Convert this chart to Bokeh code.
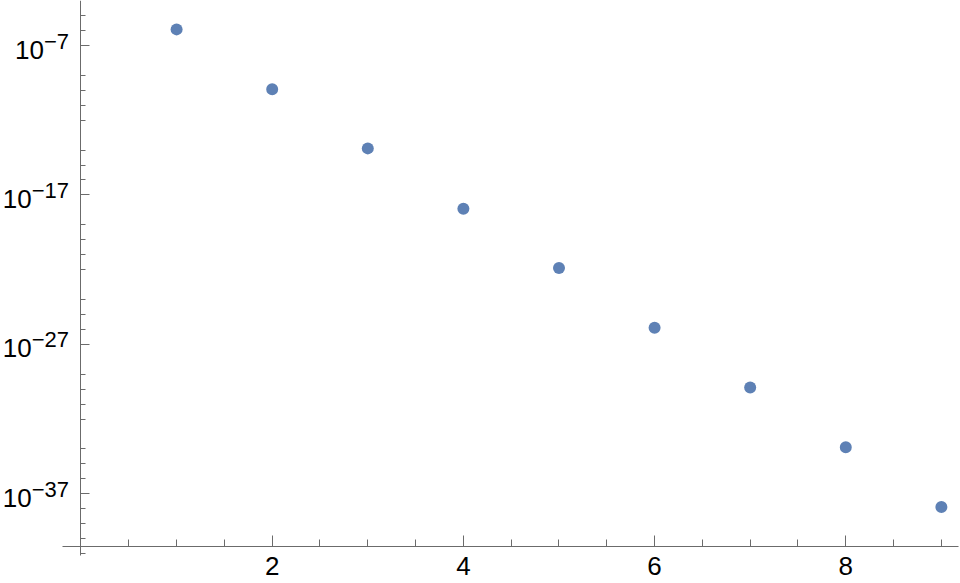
from bokeh.plotting import figure
from bokeh.models import (ColumnDataSource, FixedTicker, CustomJSTickFormatter,
                          LabelSet, Range1d)
from bokeh.core.properties import value
from bokeh.embed import file_html
from bokeh.resources import INLINE

# ---- data ----
n_values = [1, 2, 3, 4, 5, 6, 7, 8, 9]
y_values = [1.2e-6, 1.2e-10, 1.3e-14, 1.2e-18, 1.3e-22, 1.3e-26, 1.3e-30, 1.3e-34, 1.3e-38]

x_major_ticks = [2, 4, 6, 8]
x_minor_ticks = [0.5, 1, 1.5, 2.5, 3, 3.5, 4.5, 5, 5.5, 6.5, 7, 7.5, 8.5, 9]
y_major_exp = [-7, -17, -27, -37]
y_minor_exp = [-5, -6, -9, -10, -11, -12, -14, -15, -16, -19, -20, -21, -22,
               -24, -25, -26, -29, -30, -31, -32, -34, -35, -36, -38, -39, -40, -41]

# ---- styling / layout ----
AXIS_COLOR = "#6b6b6b"
POINT_COLOR = "#5E81B5"
FONT = "Liberation Sans"
BASE_SIZE = 26
EXP_SIZE = 22

# full-figure frame; axes drawn at fixed locations with bounds
x_lo, x_hi = -0.842, 9.200
y_lo, y_hi = 10 ** -43.01, 10 ** -3.988
x_bounds = (-0.1935, 9.179)
y_bounds = (10 ** -41.136, 10 ** -3.988)
x_axis_at = 10 ** -40.533

p = figure(width=960, height=583, y_axis_type="log",
           x_range=Range1d(x_lo, x_hi), y_range=Range1d(y_lo, y_hi),
           output_backend="svg", toolbar_location=None,
           min_border_left=0, min_border_right=0,
           min_border_top=0, min_border_bottom=0)
p.outline_line_color = None
p.xgrid.visible = False
p.ygrid.visible = False
p.background_fill_color = "white"

blank = CustomJSTickFormatter(code="return ''")

for ax in (p.xaxis[0], p.yaxis[0]):
    ax.formatter = blank
    ax.major_label_text_font_size = "0px"
    ax.major_label_standoff = 0
    ax.axis_line_color = AXIS_COLOR
    ax.major_tick_line_color = AXIS_COLOR
    ax.minor_tick_line_color = AXIS_COLOR
    ax.major_tick_out = 0
    ax.minor_tick_out = 0

xa = p.xaxis[0]
xa.fixed_location = x_axis_at
xa.bounds = x_bounds
xa.ticker = FixedTicker(ticks=x_major_ticks, minor_ticks=x_minor_ticks)
xa.major_tick_in = 11
xa.minor_tick_in = 7

ya = p.yaxis[0]
ya.fixed_location = 0
ya.bounds = y_bounds
ya.ticker = FixedTicker(ticks=[10.0 ** e for e in y_major_exp],
                        minor_ticks=[10.0 ** e for e in y_minor_exp])
ya.major_tick_in = 9
ya.minor_tick_in = 5

# data points
src = ColumnDataSource(dict(x=n_values, y=y_values))
p.scatter("x", "y", source=src, size=12, fill_color=POINT_COLOR,
          line_color=POINT_COLOR, line_width=0)

# x tick labels
xl = ColumnDataSource(dict(x=x_major_ticks, y=[x_axis_at] * len(x_major_ticks),
                           t=[str(v) for v in x_major_ticks]))
p.add_layout(LabelSet(x="x", y="y", text="t", source=xl, text_align="center",
                      text_baseline="alphabetic", y_offset=-29,
                      text_font=value(FONT), text_font_size=value(f"{BASE_SIZE}px"),
                      text_color="black"))

# y tick labels: "10" with superscript exponent
exp_txt = ["\u2212" + str(-e) for e in y_major_exp]
exp_w = [EXP_SIZE * (0.584 + 0.556 * (len(t) - 1)) for t in exp_txt]
yl = ColumnDataSource(dict(x=[0] * len(y_major_exp),
                           y=[10.0 ** e for e in y_major_exp],
                           base=["10"] * len(y_major_exp),
                           ex=exp_txt,
                           bo=[-12 - w for w in exp_w]))
p.add_layout(LabelSet(x="x", y="y", text="base", source=yl, text_align="right",
                      text_baseline="alphabetic", x_offset="bo", y_offset=-13,
                      text_font=value(FONT), text_font_size=value(f"{BASE_SIZE}px"),
                      text_color="black"))
p.add_layout(LabelSet(x="x", y="y", text="ex", source=yl, text_align="right",
                      text_baseline="alphabetic", x_offset=-12, y_offset=-3,
                      text_font=value(FONT), text_font_size=value(f"{EXP_SIZE}px"),
                      text_color="black"))

open("out.html", "w").write(file_html(p, INLINE))
